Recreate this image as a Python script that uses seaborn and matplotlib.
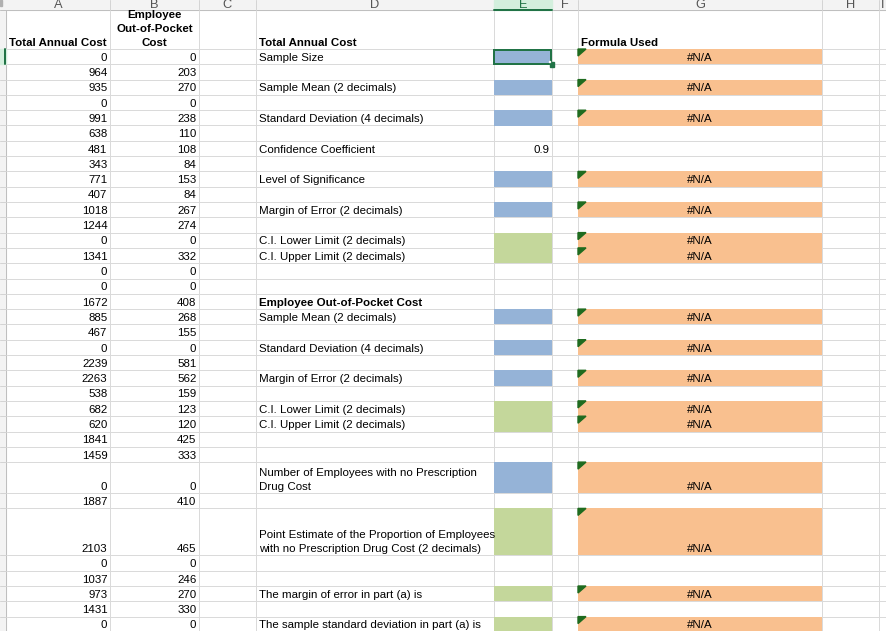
import numpy as np
import matplotlib
matplotlib.use("Agg")
import matplotlib.pyplot as plt
from matplotlib.patches import Rectangle, Polygon
import seaborn as sns

# ============================================
# DATA (read off the worksheet)
# ============================================

total_cost = [0, 964, 935, 0, 991, 638, 481, 343, 771, 407,
              1018, 1244, 0, 1341, 0, 0, 1672, 885, 467, 0,
              2239, 2263, 538, 682, 620, 1841, 1459, 0, 1887, 2103,
              0, 1037, 973, 1431, 0]
oop_cost = [0, 203, 270, 0, 238, 110, 108, 84, 153, 84,
            267, 274, 0, 332, 0, 0, 408, 268, 155, 0,
            581, 562, 159, 123, 120, 425, 333, 0, 410, 465,
            0, 246, 270, 330, 0]

header_a = "Total Annual Cost"
header_b = ["Employee", "Out-of-Pocket", "Cost"]

section_rows = [0, 17]
section_labels = ["Total Annual Cost", "Employee Out-of-Pocket Cost"]

item_rows = [1, 3, 5, 7, 9, 11, 13, 14, 18, 20, 22, 24, 25, 28, 30, 33, 35]
item_labels = [
    "Sample Size",
    "Sample Mean (2 decimals)",
    "Standard Deviation (4 decimals)",
    "Confidence Coefficient",
    "Level of Significance",
    "Margin of Error (2 decimals)",
    "C.I. Lower Limit (2 decimals)",
    "C.I. Upper Limit (2 decimals)",
    "Sample Mean (2 decimals)",
    "Standard Deviation (4 decimals)",
    "Margin of Error (2 decimals)",
    "C.I. Lower Limit (2 decimals)",
    "C.I. Upper Limit (2 decimals)",
    "Number of Employees with no Prescription\nDrug Cost",
    "Point Estimate of the Proportion of Employees\nwith no Prescription Drug Cost (2 decimals)",
    "The margin of error in part (a) is",
    "The sample standard deviation in part (a) is",
]
item_input = ["blue", "blue", "blue", "", "blue", "blue", "green", "green",
              "blue", "blue", "blue", "green", "green", "blue", "green",
              "green", "green"]
item_value = ["", "", "", "0.9", "", "", "", "", "", "", "", "", "", "",
              "", "", ""]

formula_header = "Formula Used"
formula_rows = [1, 3, 5, 9, 11, 13, 14, 18, 20, 22, 24, 25, 28, 30, 33, 35]
formula_text = "#N/A"

col_letters = ["A", "B", "C", "D", "E", "F", "G", "H", "I"]

# ============================================
# LAYOUT / STYLE
# ============================================

W, H = 886, 631
col_edges = [0, 6, 110, 199, 256, 494, 552, 578, 822, 879, 886]
row_heights = [39] + [15.3] * 27 + [31, 15.3, 47] + [15.3] * 5
row_edges = 10 + np.concatenate([[0], np.cumsum(row_heights)])

fill_colors = {"blue": "#95B3D7", "green": "#C4D79B"}
orange = "#F9C08F"
grid_col = "#DADADA"
excel_green = "#217346"
px = 72 / 100  # one pixel in points
fs = 8.25

sns.set_theme(style="white")
plt.rcParams["font.family"] = ["Liberation Sans", "DejaVu Sans"]

fig = plt.figure(figsize=(W / 100, H / 100), dpi=100)
ax = fig.add_axes([0, 0, 1, 1])
ax.set_xlim(0, W)
ax.set_ylim(H, 0)
ax.axis("off")


def col_span(c):
    # c = 0 for row header, 1 for A, ...
    return col_edges[c], col_edges[c + 1]


def row_span(r):
    # r = 0 for the header row of the sheet
    return row_edges[r], row_edges[r + 1]


def cell_text(r, c, lines, ha="left", bold=False, color="black"):
    x0, x1 = col_span(c)
    y0, y1 = row_span(r)
    if isinstance(lines, str):
        lines = lines.split("\n")
    x = {"left": x0 + 3, "right": x1 - 2.5, "center": (x0 + x1) / 2}[ha]
    n = len(lines)
    for i, line in enumerate(lines):
        yb = y1 - 3.5 - 14 * (n - 1 - i)
        ax.text(x, yb, line, ha=ha, va="baseline", fontsize=fs,
                fontweight="bold" if bold else "normal", color=color,
                clip_on=True, zorder=5)


# ---- gridlines ----
for y in row_edges:
    ax.plot([0, W], [y, y], color=grid_col, lw=px, zorder=1)
for x in col_edges[1:-1]:
    ax.plot([x, x], [10, H], color=grid_col, lw=px, zorder=1)

# ---- column / row headers ----
ax.add_patch(Rectangle((0, 0), W, 10, color="#F3F3F3", zorder=2))
ax.add_patch(Rectangle((0, 10), 6, H - 10, color="#F3F3F3", zorder=2))
ax.plot([0, W], [10, 10], color="#BFBFBF", lw=px, zorder=3)
ax.plot([6, 6], [10, H], color="#BFBFBF", lw=px, zorder=3)
for x in col_edges[2:-1]:
    ax.plot([x, x], [0, 10], color="#D4D4D4", lw=px, zorder=3)
for y in row_edges[1:]:
    ax.plot([0, 6], [y, y], color="#D4D4D4", lw=px, zorder=3)
ax.add_patch(Rectangle((0, 0), 2.5, 6, color="#B0B0B0", zorder=3))

# active column E / row 1 highlight
ex0, ex1 = col_span(5)
ax.add_patch(Rectangle((ex0, 0), ex1 - ex0, 10, color="#D3EFDD", zorder=3))
ax.plot([ex0, ex1], [9.5, 9.5], color=excel_green, lw=2 * px, zorder=4)
r0, r1 = row_span(1)
ax.add_patch(Rectangle((0, r0), 6, r1 - r0, color="#D3EFDD", zorder=3))
ax.plot([5.5, 5.5], [r0, r1], color=excel_green, lw=2 * px, zorder=4)

for c, letter in enumerate(col_letters, start=1):
    x0, x1 = col_span(c)
    ax.text((x0 + x1) / 2, 7.5, letter, ha="center", va="baseline",
            fontsize=fs + 1, color=excel_green if letter == "E" else "#555555",
            clip_on=True, zorder=5)

# ---- columns A and B ----
cell_text(0, 1, header_a, ha="center", bold=True)
cell_text(0, 2, header_b, ha="center", bold=True)
for i, (a, b) in enumerate(zip(total_cost, oop_cost), start=1):
    cell_text(i, 1, str(a), ha="right")
    cell_text(i, 2, str(b), ha="right")

# ---- column D labels ----
for r, lab in zip(section_rows, section_labels):
    cell_text(r, 4, lab, bold=True)
for r, lab in zip(item_rows, item_labels):
    cell_text(r, 4, lab)

# ---- column E inputs ----
for r, kind, val in zip(item_rows, item_input, item_value):
    y0, y1 = row_span(r)
    if kind:
        ax.barh((y0 + y1) / 2, ex1 - ex0, height=y1 - y0, left=ex0,
                color=fill_colors[kind], edgecolor="none", zorder=2)
    if val:
        cell_text(r, 5, val, ha="right")

# selected cell E1
y0, y1 = row_span(1)
ax.add_patch(Rectangle((ex0 + 0.5, y0 + 0.5), ex1 - ex0 - 1, y1 - y0 - 1,
                       fill=False, edgecolor=excel_green, lw=2 * px, zorder=6))
ax.add_patch(Rectangle((ex1 - 2, y1 - 2), 4.5, 4.5, color=excel_green, zorder=7))
ax.add_patch(Rectangle((ex1 - 3, y1 - 3), 1, 1, color="white", zorder=7))

# ---- column G formulas ----
gx0, gx1 = col_span(7)
cell_text(0, 7, formula_header, bold=True)
for r in formula_rows:
    y0, y1 = row_span(r)
    ax.barh((y0 + y1) / 2, gx1 - gx0, height=y1 - y0, left=gx0,
            color=orange, edgecolor="none", zorder=2)
    ax.add_patch(Polygon([(gx0, y0), (gx0 + 8, y0), (gx0, y0 + 7)],
                         closed=True, color="#1F6B1F", zorder=4))
    cell_text(r, 7, formula_text, ha="center")

fig.savefig("out.png", dpi=100)
